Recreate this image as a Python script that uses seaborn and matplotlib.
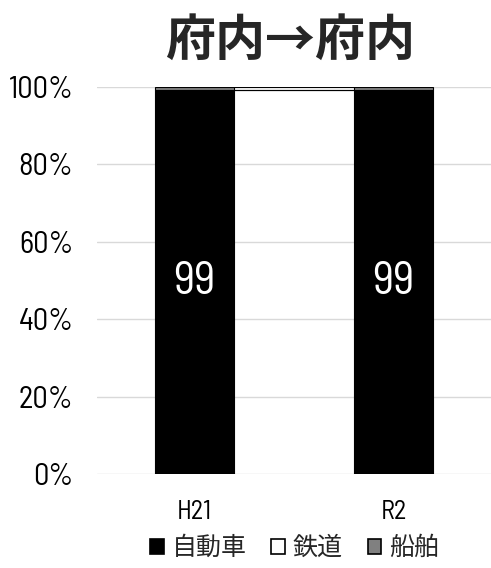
import matplotlib
matplotlib.use("Agg")
import matplotlib.pyplot as plt
import seaborn as sns
import numpy as np
import pandas as pd
from matplotlib.patches import Patch
from matplotlib.ticker import PercentFormatter

years = ["H21", "R2"]
car = [99.3, 99.3]
rail = [0.0, 0.0]
ship = [0.7, 0.7]
labels = ["99", "99"]
series = ["自動車", "鉄道", "船舶"]
colors = ["#000000", "#ffffff", "#808080"]

sns.set_theme(style="white")
plt.rcParams["font.family"] = ["Noto Sans CJK JP", "DejaVu Sans"]
num_font = ["Barlow Semi Condensed", "DejaVu Sans"]

df = pd.DataFrame({"year": years, "car": car, "rail": rail, "ship": ship})

fig = plt.figure(figsize=(4.91, 5.68), dpi=100)
ax = fig.add_axes([0.1976, 0.1655, 0.8024, 0.6813])

width = 0.4
bottom = np.zeros(len(years))
tops = []
for col, c in zip(["car", "rail", "ship"], colors):
    sns.barplot(data=df, x="year", y=col, color=c, width=width, bottom=bottom,
                edgecolor="#000000", linewidth=0.8, saturation=1, ax=ax)
    bottom = bottom + df[col].to_numpy()
    tops.append(bottom.copy())

# series lines linking the stacked segments
for t in tops:
    ax.plot([0 + width / 2, 1 - width / 2], [t[0], t[1]], color="#000000", lw=0.8, zorder=3)

for i, (v, lab) in enumerate(zip(car, labels)):
    ax.text(i, v / 2, lab, ha="center", va="center", color="white", fontsize=33,
            family=num_font, fontweight=400)

ax.set_ylim(0, 100)
ax.set_xlim(-0.49, 1.49)
ax.set_yticks(np.arange(0, 101, 20))
ax.yaxis.set_major_formatter(PercentFormatter(decimals=0))
ax.grid(axis="y", color="#d9d9d9", lw=1)
ax.set_axisbelow(True)
for s in ax.spines.values():
    s.set_visible(False)
ax.set_xlabel("")
ax.set_ylabel("")
ax.tick_params(axis="y", length=0, pad=17, labelsize=22)
ax.tick_params(axis="x", length=0, pad=19, labelsize=19)
for t in ax.get_yticklabels() + ax.get_xticklabels():
    t.set_family(num_font)
    t.set_fontweight(400)
    t.set_color("#000000")

fig.text(0.59, 0.928, "府内→府内", ha="center", va="center", fontsize=36, fontweight="bold")

handles = [Patch(facecolor=c, edgecolor="#000000", lw=1.2) for c in colors]
fig.legend(handles, series, loc="center", bbox_to_anchor=(0.6, 0.035), ncol=3,
           frameon=False, fontsize=18, handlelength=0.55, handleheight=0.55,
           handletextpad=0.3, columnspacing=1.0)

fig.savefig("out.png", dpi=100, facecolor="white")
